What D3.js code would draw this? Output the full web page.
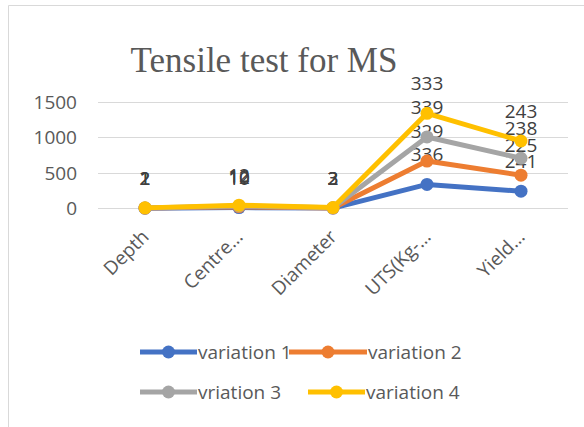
<!DOCTYPE html>
<html>
<head>
<meta charset="utf-8">
<script src="https://cdn.jsdelivr.net/npm/d3@7"></script>
<style>
  body { margin: 0; background: #fff; }
  svg { display: block; }
</style>
</head>
<body>
<script>
// chart data (stacked line, each series' own value shown as label)
const categories = ["Depth", "Centre…", "Diameter", "UTS(Kg-…", "Yield…"];
const seriesNames = ["variation 1", "variation 2", "vriation 3", "variation 4"];
const variation1 = [2, 10, 3, 336, 241];
const variation2 = [1, 12, 2, 329, 225];
const variation3 = [2, 10, 3, 339, 238];
const variation4 = [1, 12, 2, 333, 243];
const yTicks = [0, 500, 1000, 1500];
const colors = ["#4472C4", "#ED7D31", "#A5A5A5", "#FFC000"];

const width = 584, height = 427;
const font = "'Open Sans', 'Noto Sans', sans-serif";

const svg = d3.select("body").append("svg")
  .attr("width", width)
  .attr("height", height);

// chart frame
svg.append("path")
  .attr("d", `M8.5,${height} V5.5 H${width}`)
  .attr("fill", "none")
  .attr("stroke", "#d9d9d9");

svg.append("text")
  .attr("x", 264)
  .attr("y", 72)
  .attr("text-anchor", "middle")
  .attr("font-family", "'Liberation Serif', 'Times New Roman', serif")
  .attr("font-size", 35)
  .attr("fill", "#595959")
  .text("Tensile test for MS");

const x = d3.scaleBand().domain(categories).range([98, 568]);
const y = d3.scaleLinear().domain([0, 1500]).range([208.3, 101.7]);

// gridlines
svg.append("g").selectAll("line")
  .data(yTicks)
  .join("line")
  .attr("x1", x.range()[0]).attr("x2", x.range()[1])
  .attr("y1", d => Math.round(y(d)) + 0.5).attr("y2", d => Math.round(y(d)) + 0.5)
  .attr("stroke", "#d9d9d9");

// y axis labels
svg.append("g").selectAll("text")
  .data(yTicks)
  .join("text")
  .attr("x", 77)
  .attr("y", d => y(d) + 7)
  .attr("text-anchor", "end")
  .attr("font-family", font)
  .attr("font-size", 19)
  .attr("fill", "#595959")
  .text(d => d);

// x axis labels
svg.append("g").selectAll("text")
  .data(categories)
  .join("text")
  .attr("transform", d => `translate(${x(d) + x.bandwidth() / 2 + 5},${238}) rotate(-45)`)
  .attr("text-anchor", "end")
  .attr("font-family", font)
  .attr("font-size", 19)
  .attr("fill", "#595959")
  .text(d => d);

// stack the series
const raw = [variation1, variation2, variation3, variation4];
const rows = categories.map((c, i) => {
  const r = { cat: c };
  seriesNames.forEach((s, k) => r[s] = raw[k][i]);
  return r;
});
const stacked = d3.stack().keys(seriesNames)(rows);

const cx = d => x(d.data.cat) + x.bandwidth() / 2;
const line = d3.line().x(cx).y(d => y(d[1]));

const series = svg.append("g").selectAll("g")
  .data(stacked)
  .join("g");

series.append("path")
  .attr("d", d => line(d))
  .attr("fill", "none")
  .attr("stroke", (d, i) => colors[i])
  .attr("stroke-width", 5)
  .attr("stroke-linejoin", "round")
  .attr("stroke-linecap", "round");

series.selectAll("circle")
  .data(d => d)
  .join("circle")
  .attr("cx", cx)
  .attr("cy", d => y(d[1]))
  .attr("r", 6.5)
  .attr("fill", function() { return colors[d3.select(this.parentNode).datum().index]; });

// data labels
series.selectAll("text")
  .data(d => d.map(p => ({ p, key: d.key })))
  .join("text")
  .attr("x", d => cx(d.p))
  .attr("y", d => y(d.p[1]) - 23)
  .attr("text-anchor", "middle")
  .attr("font-family", font)
  .attr("font-size", 19)
  .attr("fill", "#404040")
  .text(d => d.p.data[d.key]);

// legend
const legend = [
  { name: seriesNames[0], color: colors[0], x: 140, y: 352, w: 57 },
  { name: seriesNames[1], color: colors[1], x: 289, y: 352, w: 78 },
  { name: seriesNames[2], color: colors[2], x: 140, y: 392, w: 57 },
  { name: seriesNames[3], color: colors[3], x: 308, y: 392, w: 57 }
];
const lg = svg.append("g").selectAll("g")
  .data(legend)
  .join("g")
  .attr("transform", d => `translate(${d.x},${d.y})`);
lg.append("line")
  .attr("x1", 0).attr("x2", d => d.w)
  .attr("stroke", d => d.color)
  .attr("stroke-width", 5);
lg.append("circle")
  .attr("cx", d => d.w / 2)
  .attr("r", 6.5)
  .attr("fill", d => d.color);
lg.append("text")
  .attr("x", d => d.w + 1)
  .attr("y", 7)
  .attr("font-family", font)
  .attr("font-size", 19)
  .attr("fill", "#595959")
  .text(d => d.name);
</script>
</body>
</html>
